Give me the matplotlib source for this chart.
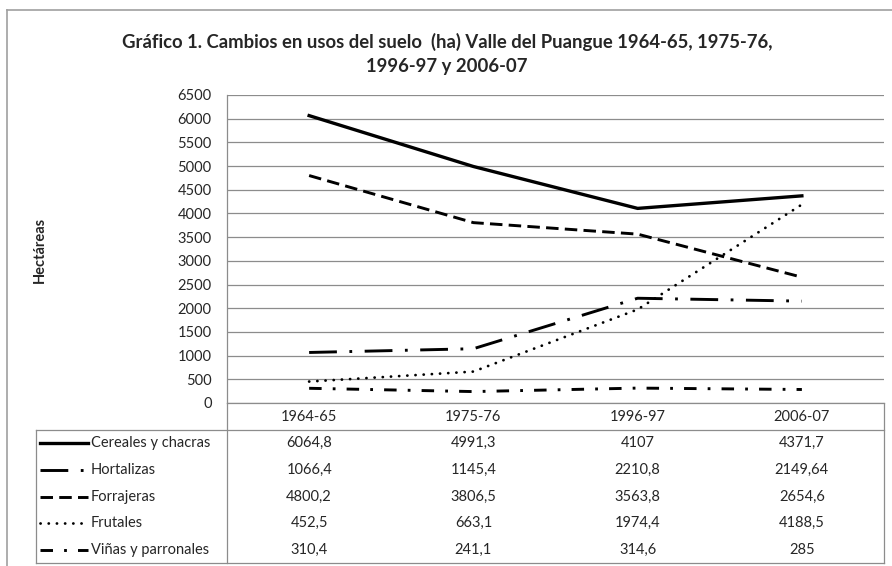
import matplotlib
matplotlib.use("Agg")
import matplotlib.pyplot as plt
from matplotlib.lines import Line2D

# --------------------------------------------------
# DATA
# --------------------------------------------------
periods = ["1964-65", "1975-76", "1996-97", "2006-07"]

cereales = [6064.8, 4991.3, 4107, 4371.7]
hortalizas = [1066.4, 1145.4, 2210.8, 2149.64]
forrajeras = [4800.2, 3806.5, 3563.8, 2654.6]
frutales = [452.5, 663.1, 1974.4, 4188.5]
vinas = [310.4, 241.1, 314.6, 285]

series_names = ["Cereales y chacras", "Hortalizas", "Forrajeras",
                "Frutales", "Viñas y parronales"]
series_values = [cereales, hortalizas, forrajeras, frutales, vinas]

y_ticks = list(range(0, 6501, 500))

# --------------------------------------------------
# STYLE
# --------------------------------------------------
plt.rcParams["font.family"] = ["Lato", "DejaVu Sans"]
plt.rcParams["lines.scale_dashes"] = False

styles = [
    dict(linestyle="-", linewidth=2.4),
    dict(linestyle=(0, (20, 9, 2, 9)), linewidth=2.1),
    dict(linestyle=(0, (9, 4.5)), linewidth=2.1),
    dict(linestyle=(0, (0.1, 5.8)), linewidth=2.0, dash_capstyle="round"),
    dict(linestyle=(0, (9, 8, 2, 8)), linewidth=2.1),
]

GRID = "#8c8c8c"
TXT = "#262626"
FS = 10.5

W, H = 892, 566
fig = plt.figure(figsize=(W / 100, H / 100), dpi=100)


def box(x0, y0, x1, y1):
    # pixel box (top-left origin) -> figure fraction rect
    return [x0 / W, 1 - y1 / H, (x1 - x0) / W, (y1 - y0) / H]


# outer chart border (right and bottom are cut off in the source)
fig.add_artist(Line2D([7 / W, 7 / W], [0, 1 - 10 / H], color="#a0a0a0", lw=1.2))
fig.add_artist(Line2D([7 / W, 1], [1 - 10 / H, 1 - 10 / H], color="#a0a0a0", lw=1.2))

# --------------------------------------------------
# LINE PLOT
# --------------------------------------------------
PL, PR, PT, PB = 227, 884, 95, 403
ax = fig.add_axes(box(PL, PT, PR, PB))
x = list(range(len(periods)))

for vals, st in zip(series_values, styles):
    ax.plot(x, vals, color="black", **st)

ax.set_xlim(-0.5, len(periods) - 0.5)
ax.set_ylim(0, 6500)
ax.set_yticks(y_ticks)
ax.set_yticklabels([str(t) for t in y_ticks], fontsize=FS, color=TXT)
ax.set_xticks([])
ax.tick_params(axis="y", length=0, pad=11)
ax.grid(axis="y", color=GRID, linewidth=0.9)
ax.set_axisbelow(True)
for side in ["top", "right", "bottom"]:
    ax.spines[side].set_visible(False)
ax.spines["left"].set_color(GRID)
ax.spines["left"].set_linewidth(0.9)

fig.text(40 / W, 1 - 250 / H, "Hectáreas", rotation=90, ha="center",
         va="center", fontsize=10.5, fontweight="bold", color=TXT)

fig.text(447 / W, 1 - 54 / H,
         "Gráfico 1. Cambios en usos del suelo  (ha) Valle del Puangue 1964-65, 1975-76,\n1996-97 y 2006-07",
         ha="center", va="center", fontsize=13.3, fontweight="bold",
         color=TXT, linespacing=1.45)

# --------------------------------------------------
# DATA TABLE
# --------------------------------------------------
TL, TB = 36, 563
col_w = (PR - PL) / len(periods)
tx0 = -0.5 - (PL - TL) / col_w
axt = fig.add_axes(box(TL, PB, PR, TB))
axt.set_xlim(tx0, len(periods) - 0.5)
axt.set_ylim(TB - PB, 0)
axt.axis("off")


def px(p):
    return -0.5 + (p - PL) / col_w


hdr_h = 27
row_h = (TB - PB - hdr_h) / len(series_names)

# borders
lw = 0.9
axt.plot([-0.5, len(periods) - 0.5], [0, 0], color=GRID, lw=lw, clip_on=False)
axt.plot([tx0, len(periods) - 0.5], [hdr_h, hdr_h], color=GRID, lw=lw, clip_on=False)
axt.plot([tx0, len(periods) - 0.5], [TB - PB, TB - PB], color=GRID, lw=lw, clip_on=False)
axt.plot([tx0, tx0], [hdr_h, TB - PB], color=GRID, lw=lw, clip_on=False)
axt.plot([-0.5, -0.5], [0, TB - PB], color=GRID, lw=lw, clip_on=False)
axt.plot([len(periods) - 0.5] * 2, [0, TB - PB], color=GRID, lw=lw, clip_on=False)

for i, p in enumerate(periods):
    axt.text(i, hdr_h / 2 + 0.5, p, ha="center", va="center",
             fontsize=FS, color=TXT)

for r, (name, vals, st) in enumerate(zip(series_names, series_values, styles)):
    yc = hdr_h + row_h * (r + 0.5)
    axt.plot([px(40), px(88)], [yc, yc], color="black", **st)
    axt.text(px(91), yc, name, ha="left", va="center", fontsize=FS, color=TXT)
    for i, v in enumerate(vals):
        axt.text(i, yc, f"{v:g}".replace(".", ","), ha="center",
                 va="center", fontsize=FS, color=TXT)

fig.savefig("out.png", dpi=100)
